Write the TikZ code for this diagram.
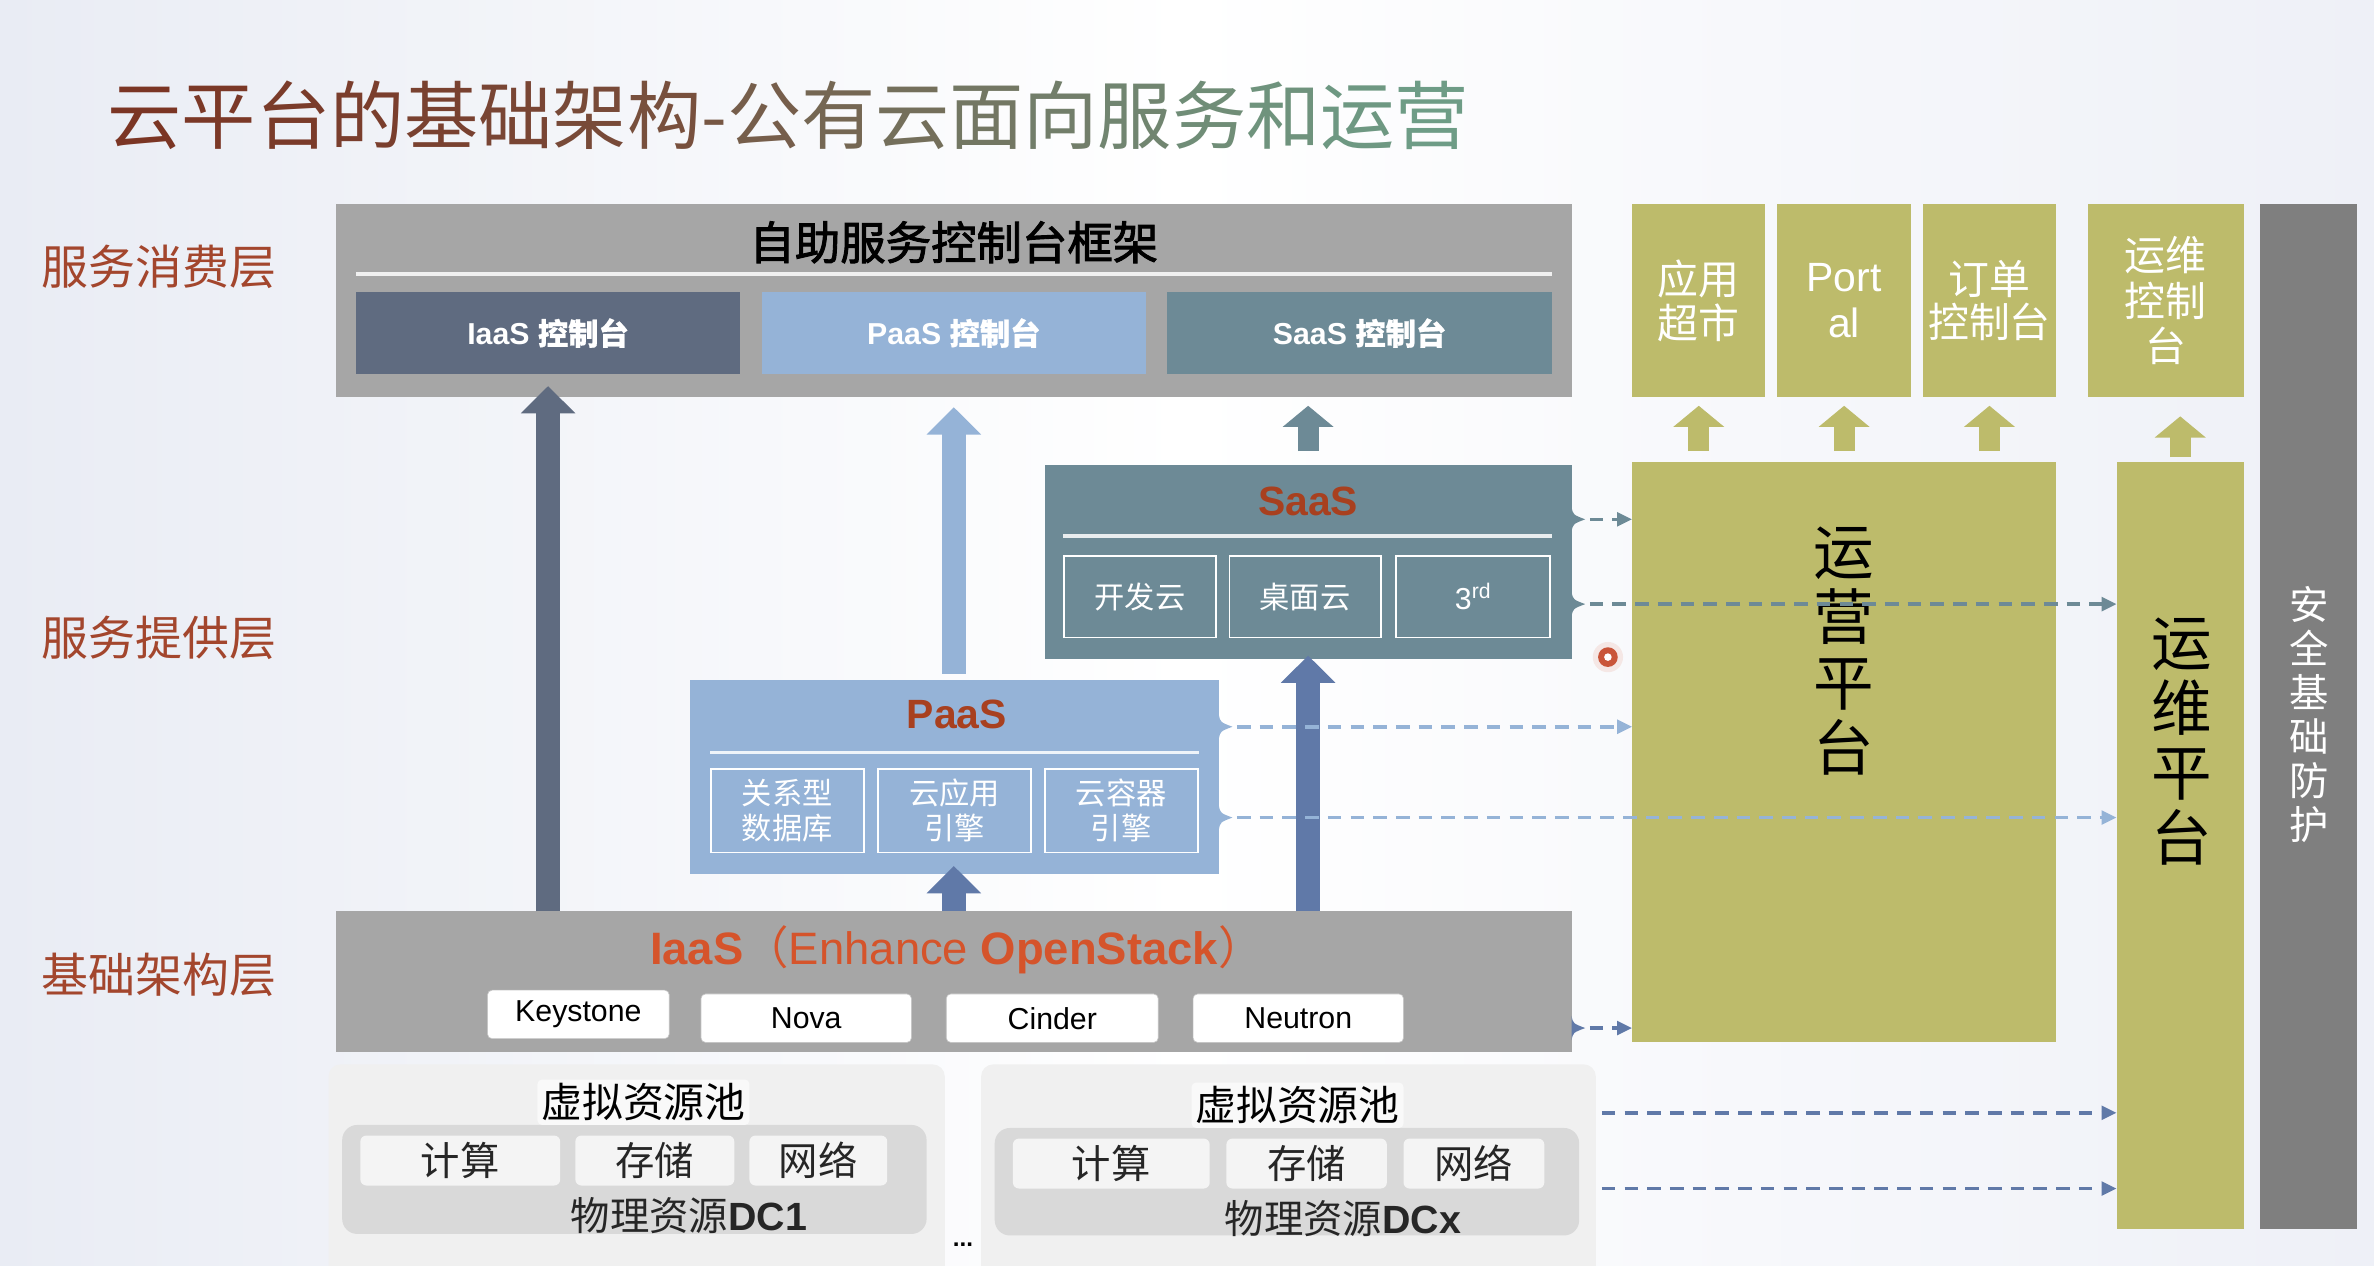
\documentclass[tikz,border=0pt]{standalone}
\usepackage{fontspec}
\setmainfont{Liberation Sans}
\newfontfamily\cjk{Noto Sans CJK SC}
\newfontfamily\cjkb{Noto Sans CJK SC}[FakeBold=2]
\newfontfamily\cjkm{Noto Sans CJK SC}[FakeBold=0.8]
\usetikzlibrary{arrows.meta,calc}
\definecolor{tbrown}{HTML}{7B3524}
\definecolor{tgreen}{HTML}{6E9C86}
\definecolor{labelred}{HTML}{A3462D}
\definecolor{gbox}{HTML}{A6A6A6}
\definecolor{cIaaS}{HTML}{5F6B80}
\definecolor{cPaaS}{HTML}{95B3D7}
\definecolor{cSaaS}{HTML}{6D8A96}
\definecolor{olive}{HTML}{BDBB6B}
\definecolor{secgray}{HTML}{7F7F7F}
\definecolor{arrblue}{HTML}{6079A8}
\definecolor{iaasRed}{HTML}{D5542B}
\definecolor{ttlRed}{HTML}{A8401F}
\definecolor{panel}{HTML}{F0F0F0}
\definecolor{inner}{HTML}{D9D9D9}
\definecolor{cell}{HTML}{F4F4F4}
\definecolor{bgL}{HTML}{E9ECF4}
\definecolor{bgR}{HTML}{EEF0F7}
\definecolor{dotred}{HTML}{C9553A}
\newcommand\fsz[2]{\fontsize{#1pt}{#2pt}\selectfont}
\newcommand\tcc[2]{{\color{tgreen!#1!tbrown}#2}}
\newcommand\notch[3]{\fill[#3] (#1,#2-8) .. controls (#1+1,#2-3) .. (#1+9,#2) .. controls (#1+1,#2+3) .. (#1,#2+8) -- cycle;}
\tikzset{
  box/.style={rectangle, inner sep=0pt, outer sep=0pt, draw=none},
  blockarr/.style={line width=16pt, -{Triangle[width=35pt,length=18pt]}},
  smallarr/.style={line width=14pt, -{Triangle[width=33pt,length=14pt]}},
  dasharr/.style={line width=2.4pt, dash pattern=on 9pt off 6pt, -{Triangle[length=10pt,width=9pt]}},
  conbox/.style={box, minimum width=254pt, minimum height=54pt, text=white, font=\bfseries\fsz{20}{24}},
  subbox/.style={box, draw=white, line width=1.2pt, minimum height=54pt, text=white, font=\cjk\fsz{20}{23}, align=center},
  osbox/.style={box, fill=white, draw=gray!45, rounded corners=3pt, minimum height=32pt, font=\fsz{20}{24}},
  cellbox/.style={box, fill=cell, rounded corners=4pt, minimum height=33pt, font=\cjk\fsz{26}{30}, text=black!85},
  layerlbl/.style={font=\cjk\fsz{31}{36}, text=labelred},
  olivebox/.style={box, fill=olive, minimum width=88pt, minimum height=127pt, text=white, align=center, font=\cjk\fsz{27}{29}},
}
\begin{document}
\begin{tikzpicture}[x=1pt,y=-1pt]
\useasboundingbox (0,0) rectangle (1568,836);
\shade[left color=bgL, right color=bgR, middle color=white] (0,0) rectangle (1568,836);

% title
\node[anchor=west, font=\cjk\fsz{49}{56}, inner sep=0pt] (title) at (71,76)
 {\tcc{0}{云}\tcc{3}{平}\tcc{6}{台}\tcc{9}{的}\tcc{12}{基}\tcc{16}{础}\tcc{20}{架}\tcc{26}{构}\tcc{33}{-}\tcc{40}{公}\tcc{48}{有}\tcc{56}{云}\tcc{64}{面}\tcc{71}{向}\tcc{78}{服}\tcc{85}{务}\tcc{91}{和}\tcc{96}{运}\tcc{100}{营}};

% layer labels
\node[layerlbl] (l1) at (105,176) {服务消费层};
\node[layerlbl] (l2) at (105,421) {服务提供层};
\node[layerlbl] (l3) at (105,644) {基础架构层};

% self-service frame
\node[box, fill=gbox, minimum width=816pt, minimum height=127pt] (frame) at (630,198.5) {};
\node[font=\cjkb\fsz{30}{36}] (frametitle) at (630,160) {自助服务控制台框架};
\draw[white!88!gray, line width=3pt] (235,181) -- (1025,181);
\node[conbox, fill=cIaaS] (iaascon) at (362,220) {IaaS {\cjkm 控制台}};
\node[conbox, fill=cPaaS] (paascon) at (630,220) {PaaS {\cjkm 控制台}};
\node[conbox, fill=cSaaS] (saascon) at (898,220) {SaaS {\cjkm 控制台}};

% SaaS box
\node[box, fill=cSaaS, minimum width=348pt, minimum height=128pt] (saas) at (864,371) {};
\node[font=\bfseries\fsz{27}{32}, text=ttlRed] (saast) at (864,331) {SaaS};
\draw[white!85!cSaaS, line width=2.5pt] (702,354) -- (1025,354);
\node[subbox, minimum width=100pt] (s1) at (753,394) {开发云};
\node[subbox, minimum width=100pt] (s2) at (862,394) {桌面云};
\node[subbox, minimum width=102pt, font=\fsz{20}{23}] (s3) at (973,394) {3\textsuperscript{rd}};
\notch{1038}{343}{cSaaS}
\notch{1038}{399}{cSaaS}

% PaaS box
\node[box, fill=cPaaS, minimum width=349pt, minimum height=128pt] (paas) at (630.5,513) {};
\node[font=\bfseries\fsz{27}{32}, text=ttlRed] (paast) at (632,472) {PaaS};
\draw[white!85!cPaaS, line width=2.5pt] (469,497) -- (792,497);
\node[subbox, minimum width=101pt, minimum height=55pt] (p1) at (520,535.5) {关系型\\数据库};
\node[subbox, minimum width=101pt, minimum height=55pt] (p2) at (630.5,535.5) {云应用\\引擎};
\node[subbox, minimum width=101pt, minimum height=55pt] (p3) at (740.5,535.5) {云容器\\引擎};
\notch{805}{480}{cPaaS}
\notch{805}{540}{cPaaS}

% IaaS box
\node[box, fill=gbox, minimum width=816pt, minimum height=93pt] (iaas) at (630,648.5) {};
\node[font=\fsz{30}{34}, text=iaasRed] (iaast) at (632,627) {\textbf{IaaS}{\cjk （}Enhance \textbf{OpenStack}{\cjk ）}};
\node[osbox, minimum width=120pt] (ks) at (382,670) {Keystone};
\node[osbox, minimum width=139pt] (nova) at (532.5,672.5) {Nova};
\node[osbox, minimum width=140pt] (cinder) at (695,672.5) {Cinder};
\node[osbox, minimum width=139pt] (neutron) at (857.5,672.5) {Neutron};
\notch{1038}{679}{arrblue}

% DC panels
\node[box, fill=panel, rounded corners=8pt, minimum width=407pt, minimum height=150pt] (dc1) at (420.5,778) {};
\node[box, fill=inner, rounded corners=10pt, minimum width=386pt, minimum height=72pt] (dc1in) at (419,779) {};
\node[box, fill=white!60!panel, rounded corners=3pt, minimum width=140pt, minimum height=30pt, font=\cjk\fsz{27}{30}] (v1) at (425,728) {虚拟资源池};
\node[cellbox, minimum width=132pt] (c11) at (304,766.5) {计算};
\node[cellbox, minimum width=105pt] (c12) at (432.5,766.5) {存储};
\node[cellbox, minimum width=91pt] (c13) at (540.5,766.5) {网络};
\node[font=\fsz{26}{30}, text=black!85] (ph1) at (455,803) {{\cjk 物理资源}\textbf{DC1}};

\node[box, fill=panel, rounded corners=8pt, minimum width=406pt, minimum height=150pt] (dcx) at (851,778) {};
\node[box, fill=inner, rounded corners=10pt, minimum width=386pt, minimum height=71pt] (dcxin) at (850,780.5) {};
\node[box, fill=white!60!panel, rounded corners=3pt, minimum width=140pt, minimum height=30pt, font=\cjk\fsz{27}{30}] (vx) at (857,730) {虚拟资源池};
\node[cellbox, minimum width=130pt] (cx1) at (734,768.5) {计算};
\node[cellbox, minimum width=106pt] (cx2) at (863,768.5) {存储};
\node[cellbox, minimum width=93pt] (cx3) at (973.5,768.5) {网络};
\node[font=\fsz{26}{30}, text=black!85] (phx) at (887,805) {{\cjk 物理资源}\textbf{DCx}};
\node[font=\bfseries\fsz{16}{18}] (dots) at (636,822) {...};

% right side
\node[olivebox] (yyss) at (1122,198.5) {应用\\超市};
\node[olivebox, font=\fsz{27}{30}] (portal) at (1218,198.5) {Port\\al};
\node[olivebox] (ddkz) at (1314,198.5) {订单\\控制台};
\node[olivebox, minimum width=103pt, font=\cjk\fsz{27}{30}] (ywkz) at (1430.5,198.5) {运维\\控制\\台};
\node[box, fill=olive, minimum width=280pt, minimum height=383pt] (yy) at (1218,496.5) {};
\node[font=\cjk\fsz{40}{43}, align=center] (yyt) at (1218,430) {运\\营\\平\\台};
\node[box, fill=olive, minimum width=84pt, minimum height=507pt] (yw) at (1440,558.5) {};
\node[font=\cjk\fsz{40}{43}, align=center] (ywt) at (1441,490) {运\\维\\平\\台};
\node[box, fill=secgray, minimum width=64pt, minimum height=677pt] (sec) at (1525,473.5) {};
\node[font=\cjk\fsz{26}{29}, align=center, text=white] (sect) at (1525,472) {安\\全\\基\\础\\防\\护};

% block arrows
\draw[blockarr, cIaaS] (iaas.north -| iaascon) -- ($(iaascon.south)+(0,8)$);
\draw[blockarr, cPaaS] ($(paas.north -| paascon)+(0,-4)$) -- ($(frame.south -| paascon)+(0,7)$);
\draw[blockarr, arrblue] (iaas.north -| paascon) -- ($(paas.south -| paascon)+(0,-5)$);
\draw[blockarr, arrblue] (iaas.north -| saas) -- ($(saas.south)+(0,-2)$);
\draw[smallarr, cSaaS] ($(saas.north)+(0,-9)$) -- ($(frame.south -| saas)+(0,6)$);
\draw[smallarr, olive] ($(yy.north -| yyss)+(0,-7)$) -- ($(yyss.south)+(0,6)$);
\draw[smallarr, olive] ($(yy.north -| portal)+(0,-7)$) -- ($(portal.south)+(0,6)$);
\draw[smallarr, olive] ($(yy.north -| ddkz)+(0,-7)$) -- ($(ddkz.south)+(0,6)$);
\draw[smallarr, olive] ($(yw.north)+(0,-3)$) -- ($(ywkz.south -| yw)+(0,13)$);

% dashed arrows
\coordinate (ds1) at (1050,343);
\coordinate (ds2) at (1050,399);
\coordinate (dp1) at (817,480);
\coordinate (dp2) at (817,540);
\coordinate (di1) at (1050,679);
\coordinate (dd1) at (1058,735);
\coordinate (dd2) at (1058,785);
\draw[dasharr, cSaaS] (ds1) -- (yy.west |- ds1);
\draw[dasharr, cSaaS] (ds2) -- (yw.west |- ds2);
\draw[dasharr, cPaaS] (dp1) -- (yy.west |- dp1);
\draw[dasharr, cPaaS] (dp2) -- (yw.west |- dp2);
\draw[dasharr, arrblue] (di1) -- (yy.west |- di1);
\draw[dasharr, arrblue] (dd1) -- (yw.west |- dd1);
\draw[dasharr, arrblue] (dd2) -- (yw.west |- dd2);

% pointer dot
\fill[dotred!30, opacity=0.4] (1062,434) circle (10);
\fill[dotred] (1062,434) circle (6.5);
\fill[white] (1062,434) circle (2.5);
\end{tikzpicture}
\end{document}
